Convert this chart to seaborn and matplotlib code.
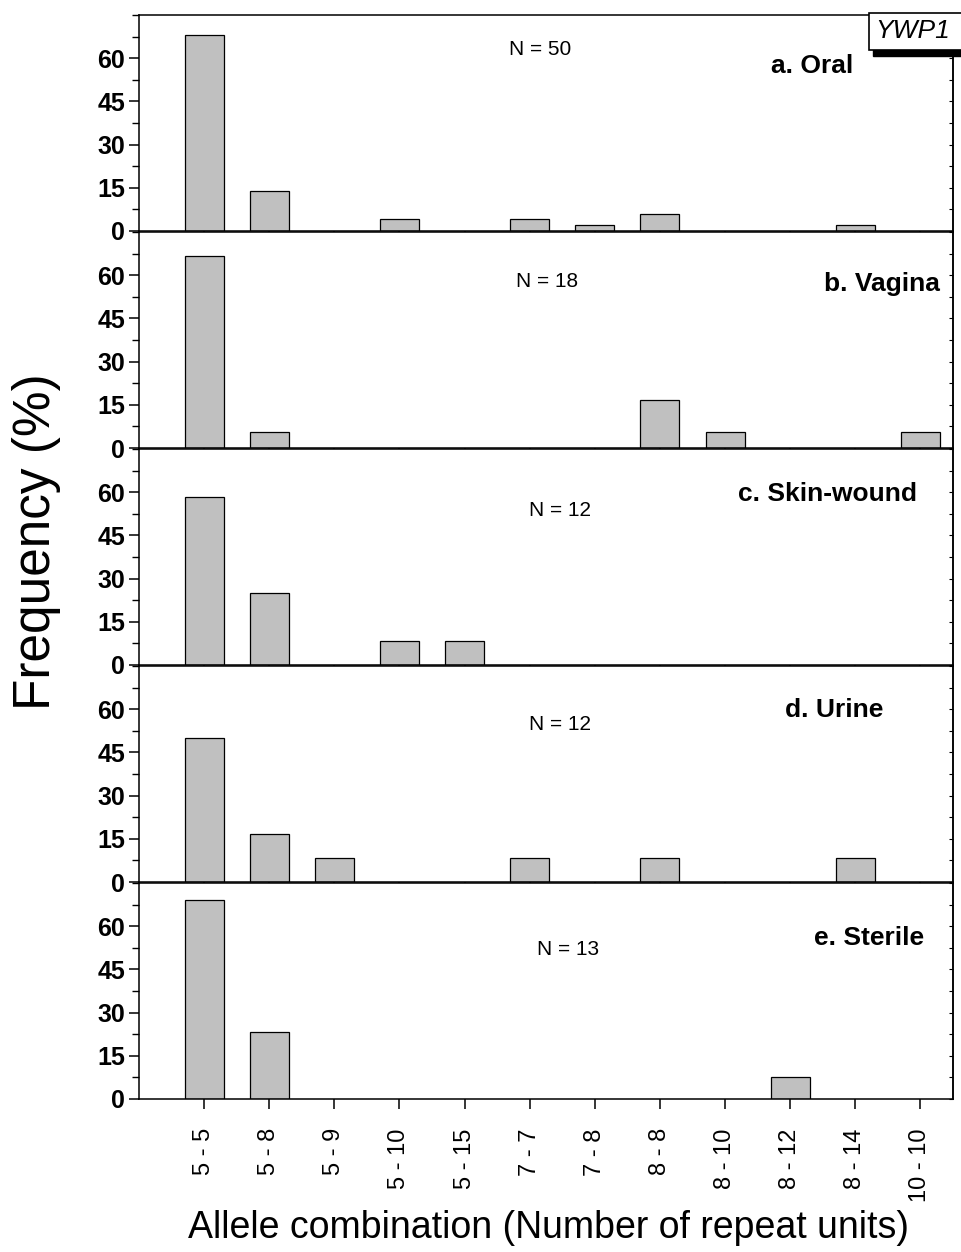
import matplotlib
matplotlib.use("Agg")
import matplotlib.pyplot as plt
from matplotlib.patches import Rectangle
from matplotlib.ticker import MultipleLocator, FixedLocator, NullLocator
import seaborn as sns
import pandas as pd

# ---------------- data ----------------
combos = ["5 - 5", "5 - 8", "5 - 9", "5 - 10", "5 - 15", "7 - 7",
          "7 - 8", "8 - 8", "8 - 10", "8 - 12", "8 - 14", "10 - 10"]
oral = [68, 14, 0, 4, 0, 4, 2, 6, 0, 0, 2, 0]
vagina = [66.7, 5.6, 0, 0, 0, 0, 0, 16.7, 5.6, 0, 0, 5.6]
skin = [58.3, 25.0, 0, 8.3, 8.3, 0, 0, 0, 0, 0, 0, 0]
urine = [50.0, 16.7, 8.3, 0, 0, 8.3, 0, 8.3, 0, 0, 8.3, 0]
sterile = [69.2, 23.1, 0, 0, 0, 0, 0, 0, 0, 7.7, 0, 0]
panel_titles = ["a. Oral", "b. Vagina", "c. Skin-wound", "d. Urine", "e. Sterile"]
n_labels = ["N = 50", "N = 18", "N = 12", "N = 12", "N = 13"]
series = [oral, vagina, skin, urine, sterile]
ytick_vals = [0, 15, 30, 45, 60]
gene_label = "YWP1"

# ---------------- style ----------------
sns.set_style("ticks")
plt.rcParams["font.family"] = ["Liberation Sans", "DejaVu Sans"]
plt.rcParams["axes.linewidth"] = 1.1
plt.rcParams["text.color"] = "black"
plt.rcParams["xtick.color"] = "black"
plt.rcParams["ytick.color"] = "black"
plt.rcParams["xtick.labelcolor"] = "black"
plt.rcParams["ytick.labelcolor"] = "black"
plt.rcParams["axes.edgecolor"] = "black"
plt.rcParams["xtick.top"] = False
plt.rcParams["xtick.minor.visible"] = False

W, H = 961, 1252
fig = plt.figure(figsize=(W / 100, H / 100), dpi=100)

left_px, right_px = 139, 953
tops = [15, 232, 449, 666, 883]
ph = 216

# layout for annotations (axes fractions)
n_pos = [(0.493, 0.838), (0.501, 0.769), (0.517, 0.713), (0.517, 0.731), (0.527, 0.69)]
t_pos = [(0.877, 0.764), (0.984, 0.759), (0.956, 0.792), (0.914, 0.796), (0.964, 0.745)]

for i, vals in enumerate(series):
    top = tops[i]
    ax = fig.add_axes([left_px / W, 1 - (top + ph) / H,
                       (right_px - left_px) / W, ph / H])
    df = pd.DataFrame({"combo": combos, "freq": vals})
    df = df[df["freq"] > 0]
    sns.barplot(data=df, x="combo", y="freq", order=combos, ax=ax,
                color="#c0c0c0", edgecolor="black", linewidth=0.9,
                width=0.6, saturation=1)
    ax.set_xlim(-1, 11.5)
    ax.set_ylim(0, 75)
    ax.set_xlabel("")
    ax.set_ylabel("")
    ax.xaxis.set_ticks_position("bottom")
    ax.xaxis.set_minor_locator(NullLocator())
    ax.yaxis.set_ticks_position("left")
    ax.yaxis.set_major_locator(FixedLocator(ytick_vals))
    ax.yaxis.set_minor_locator(MultipleLocator(7.5))
    ax.tick_params(axis="y", which="major", direction="out", length=7,
                   width=1.1, labelsize=18, pad=3)
    ax.tick_params(axis="y", which="minor", direction="out", length=5, width=1.0)
    for lab in ax.get_yticklabels():
        lab.set_fontweight("bold")
    ax.tick_params(axis="x", which="major", direction="out", length=7, width=1.1)
    if i < 4:
        ax.tick_params(axis="x", labelbottom=False)
    else:
        ax.set_xticks(range(len(combos)))
        ax.set_xticklabels(combos, rotation=90, fontsize=17, va="top", ha="center")
        ax.tick_params(axis="x", pad=14)
    for s in ax.spines.values():
        s.set_visible(True)
        s.set_linewidth(1.1)
        s.set_color("black")
    # inward ticks on the right
    sec_y = ax.secondary_yaxis("right")
    sec_y.yaxis.set_major_locator(FixedLocator(ytick_vals))
    sec_y.yaxis.set_minor_locator(MultipleLocator(7.5))
    sec_y.tick_params(axis="y", which="both", direction="in", length=3,
                      width=0.8, labelright=False)

    ax.text(n_pos[i][0], n_pos[i][1], n_labels[i], transform=ax.transAxes,
            ha="center", va="center", fontsize=15, color="black")
    ax.text(t_pos[i][0], t_pos[i][1], panel_titles[i], transform=ax.transAxes,
            ha="right", va="center", fontsize=19, fontweight="bold", color="black")

# axis titles
fig.text(37 / W, 1 - 542 / H, "Frequency (%)", rotation=90, ha="center",
         va="center", fontsize=37, color="black")
fig.text(548 / W, 1 - 1228 / H, "Allele combination (Number of repeat units)",
         ha="center", va="center", fontsize=27, color="black")

# gene label box with shadow
bx0, by0, bx1, by1 = 869, 13, 963, 50
shadow = Rectangle(((bx0 + 4) / W, 1 - (by1 + 6) / H), (bx1 - bx0) / W,
                   (by1 - by0) / H, transform=fig.transFigure,
                   facecolor="black", edgecolor="black", zorder=10)
box = Rectangle((bx0 / W, 1 - by1 / H), (bx1 - bx0) / W, (by1 - by0) / H,
                transform=fig.transFigure, facecolor="white",
                edgecolor="black", linewidth=1.2, zorder=11)
fig.add_artist(shadow)
fig.add_artist(box)
fig.text(913 / W, 1 - (by0 + by1) / 2 / H, gene_label,
         ha="center", va="center", fontsize=19, style="italic", zorder=12,
         color="black")

fig.savefig("out.png", dpi=100)
